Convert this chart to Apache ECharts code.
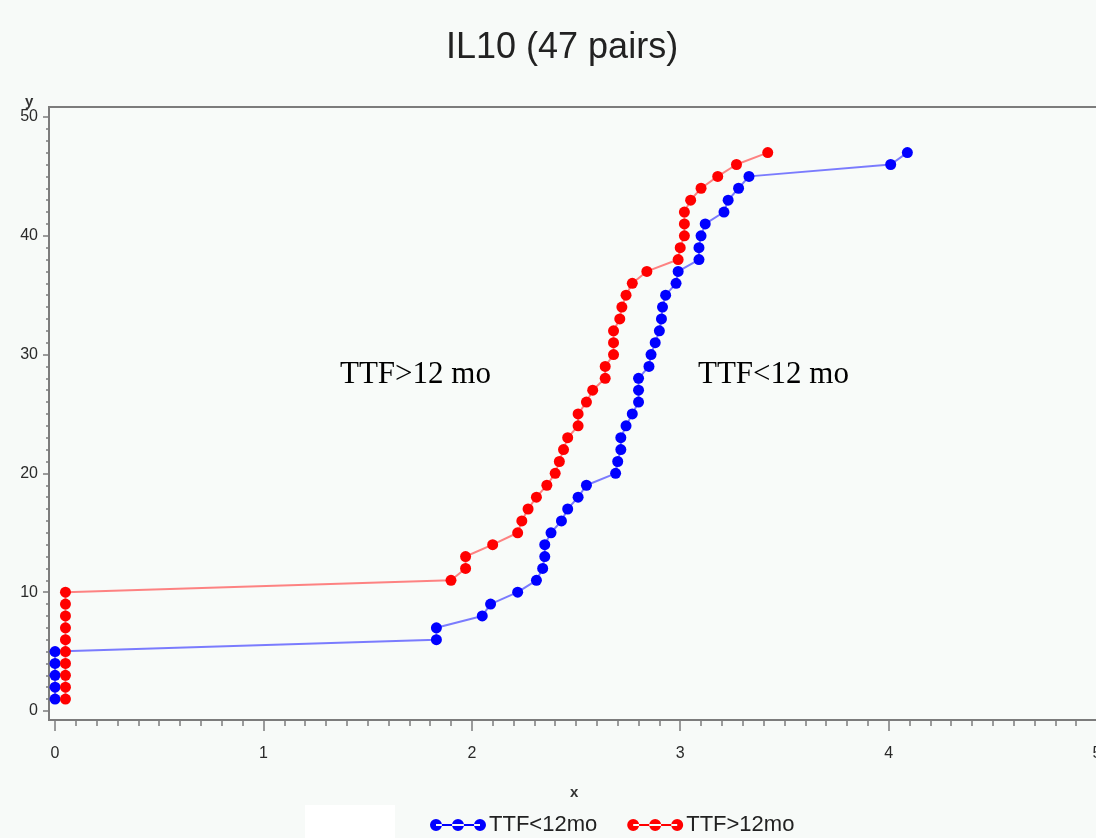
<!DOCTYPE html>
<html>
<head>
<meta charset="utf-8">
<title>IL10 (47 pairs)</title>
<script src="https://cdn.jsdelivr.net/npm/echarts@6/dist/echarts.min.js"></script>
<style>
  html, body { margin: 0; padding: 0; background: #f7faf8; }
  #chart { width: 1096px; height: 838px; }
</style>
</head>
<body>
<div id="chart"></div>
<script>
// Rank of each pair (y) and the sorted x value of each group at that rank
const ranks = [1, 2, 3, 4, 5, 6, 7, 8, 9, 10, 11, 12, 13, 14, 15, 16, 17, 18, 19, 20,
  21, 22, 23, 24, 25, 26, 27, 28, 29, 30, 31, 32, 33, 34, 35, 36, 37, 38, 39, 40,
  41, 42, 43, 44, 45, 46, 47];

const shortTTF = [0, 0, 0, 0, 0, 1.83, 1.83, 2.05, 2.09, 2.22,
  2.31, 2.34, 2.35, 2.35, 2.38, 2.43, 2.46, 2.51, 2.55, 2.69,
  2.70, 2.715, 2.715, 2.74, 2.77, 2.80, 2.80, 2.80, 2.85, 2.86,
  2.88, 2.90, 2.91, 2.915, 2.93, 2.98, 2.99, 3.09, 3.09, 3.10,
  3.12, 3.21, 3.23, 3.28, 3.33, 4.01, 4.09];

const longTTF = [0.05, 0.05, 0.05, 0.05, 0.05, 0.05, 0.05, 0.05, 0.05, 0.05,
  1.90, 1.97, 1.97, 2.10, 2.22, 2.24, 2.27, 2.31, 2.36, 2.40,
  2.42, 2.44, 2.46, 2.51, 2.51, 2.55, 2.58, 2.64, 2.64, 2.68,
  2.68, 2.68, 2.71, 2.72, 2.74, 2.77, 2.84, 2.99, 3.00, 3.02,
  3.02, 3.02, 3.05, 3.10, 3.18, 3.27, 3.42];

const seriesNames = ['TTF<12mo', 'TTF>12mo'];
const xTicks = [0, 1, 2, 3, 4, 5];
const yTicks = [0, 10, 20, 30, 40, 50];

// minor tick positions: every 0.1 on x, every 1 on y
const xMinor = [];
for (let i = 0; i <= 50; i++) xMinor.push(+(i / 10).toFixed(1));
const yMinor = [];
for (let i = 0; i <= 50; i++) yMinor.push(i);

const pairs = (xs) => xs.map((x, i) => [x, ranks[i]]);

const axisGrey = '#7c7c7c';
const labelStyle = { color: '#2a2a2a', fontFamily: 'Liberation Sans', fontSize: 16 };

const X_MIN = -0.029, X_MAX = 5;
const Y_MIN = -0.76, Y_MAX = 50.84;

const legendIcon = 'path://M0,6a6,6 0 1,0 12,0a6,6 0 1,0 -12,0Z' +
  'M22,6a6,6 0 1,0 12,0a6,6 0 1,0 -12,0Z' +
  'M44,6a6,6 0 1,0 12,0a6,6 0 1,0 -12,0Z' +
  'M6,5L50,5L50,7L6,7Z';

const chart = echarts.init(document.getElementById('chart'), null, { renderer: 'canvas' });

chart.setOption({
  backgroundColor: '#f7faf8',
  animation: false,
  title: {
    text: 'IL10 (47 pairs)',
    left: 441,
    top: 25,
    textStyle: { fontFamily: 'Liberation Sans', fontSize: 36, fontWeight: 'normal', color: '#222' }
  },
  grid: {
    left: 49, right: -1, top: 107, bottom: 118,
    outerBoundsMode: 'none', containLabel: false,
    show: true, borderColor: axisGrey, borderWidth: 2, backgroundColor: '#f8fbf9'
  },
  legend: {
    left: 425, top: 809,
    itemWidth: 56, itemHeight: 12, itemGap: 30,
    icon: legendIcon,
    textStyle: { fontFamily: 'Liberation Sans', fontSize: 22, color: '#222', padding: [0, 0, 0, -2] },
    data: seriesNames
  },
  xAxis: [
    {
      type: 'value', min: X_MIN, max: X_MAX, position: 'bottom',
      axisLine: { show: true, onZero: false, lineStyle: { color: axisGrey, width: 2 } },
      axisTick: { show: true, length: 11, customValues: xTicks, lineStyle: { color: axisGrey, width: 1.5 } },
      axisLabel: { customValues: xTicks, margin: 26, ...labelStyle },
      splitLine: { show: false }
    },
    {
      type: 'value', min: X_MIN, max: X_MAX, position: 'bottom',
      axisLine: { show: false, onZero: false },
      axisTick: { show: true, length: 6, customValues: xMinor, lineStyle: { color: axisGrey, width: 1.5 } },
      axisLabel: { show: false },
      splitLine: { show: false }
    }
  ],
  yAxis: [
    {
      type: 'value', min: Y_MIN, max: Y_MAX, position: 'left',
      axisLine: { show: true, onZero: false, lineStyle: { color: axisGrey, width: 2 } },
      axisTick: { show: true, length: 6, customValues: yTicks, lineStyle: { color: axisGrey, width: 1.5 } },
      axisLabel: { customValues: yTicks, margin: 11, ...labelStyle },
      splitLine: { show: false }
    },
    {
      type: 'value', min: Y_MIN, max: Y_MAX, position: 'left',
      axisLine: { show: false, onZero: false },
      axisTick: { show: true, length: 3, customValues: yMinor, lineStyle: { color: axisGrey, width: 1.5 } },
      axisLabel: { show: false },
      splitLine: { show: false }
    }
  ],
  series: [
    {
      name: seriesNames[0], type: 'line', xAxisIndex: 0, yAxisIndex: 0,
      data: pairs(shortTTF),
      symbol: 'circle', symbolSize: 11, showAllSymbol: true, clip: false,
      itemStyle: { color: '#0000ff' },
      lineStyle: { color: 'rgba(80, 80, 255, 0.75)', width: 2 }
    },
    {
      name: seriesNames[1], type: 'line', xAxisIndex: 0, yAxisIndex: 0,
      data: pairs(longTTF),
      symbol: 'circle', symbolSize: 11, showAllSymbol: true, clip: false,
      itemStyle: { color: '#ff0000' },
      lineStyle: { color: 'rgba(255, 90, 90, 0.75)', width: 2 }
    }
  ],
  graphic: [
    { type: 'rect', left: 305, top: 805, shape: { width: 90, height: 33 }, style: { fill: '#ffffff' }, silent: true },
    { type: 'text', left: 340, top: 359, style: { text: 'TTF>12 mo', fontFamily: 'Liberation Serif', fontSize: 31, fill: '#000' } },
    { type: 'text', left: 698, top: 359, style: { text: 'TTF<12 mo', fontFamily: 'Liberation Serif', fontSize: 31, fill: '#000' } },
    { type: 'text', left: 25, top: 94, style: { text: 'y', fontFamily: 'Liberation Sans', fontSize: 15, fontWeight: 'bold', fill: '#333' } },
    { type: 'text', left: 570, top: 785, style: { text: 'x', fontFamily: 'Liberation Sans', fontSize: 15, fontWeight: 'bold', fill: '#333' } }
  ]
});
</script>
</body>
</html>
